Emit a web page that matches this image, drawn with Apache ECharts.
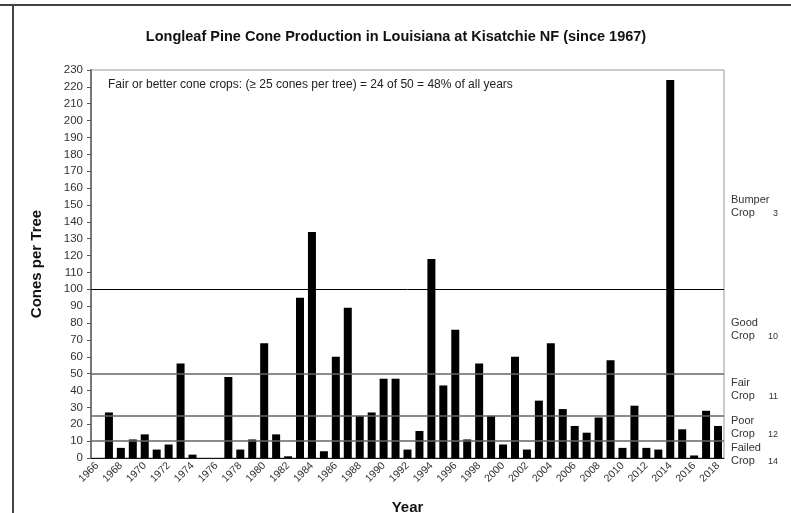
<!DOCTYPE html>
<html>
<head>
<meta charset="utf-8">
<script src="https://cdn.jsdelivr.net/npm/echarts@6/dist/echarts.min.js"></script>
<style>
  html, body { margin: 0; padding: 0; background: #fff; }
  #chart { width: 791px; height: 513px; }
</style>
</head>
<body>
<div id="chart"></div>
<script>
// years on the category axis (1966 has no data)
const years = [];
for (let y = 1966; y <= 2018; y++) years.push(String(y));

// cones per tree, 1966..2018
const cones = [
  null, 27, 6, 11, 14, 5, 8, 56, 2, 0,
  0, 48, 5, 11, 68, 14, 1, 95, 134, 4,
  60, 89, 25, 27, 47, 47, 5, 16, 118, 43,
  76, 11, 56, 25, 8, 60, 5, 34, 68, 29,
  19, 15, 24, 58, 6, 31, 6, 5, 224, 17,
  1.5, 28, 19
];

// crop class thresholds drawn as horizontal lines
const thresholds = [10, 25, 50, 100];

// crop classes on the right side
const cropClasses = ['Bumper', 'Good', 'Fair', 'Poor', 'Failed'];
const cropCounts = [3, 10, 11, 12, 14];
const cropLabelY = [200, 323, 383, 421, 448];

const note = 'Fair or better cone crops: (\u2265 25 cones per tree) = 24 of 50 = 48% of all years';

const font = '"Liberation Sans", Arial, sans-serif';
const chart = echarts.init(document.getElementById('chart'));

const graphics = [
  // outer frame
  { type: 'line', shape: { x1: 0, y1: 5, x2: 791, y2: 5 }, style: { stroke: '#444', lineWidth: 2 } },
  { type: 'line', shape: { x1: 13, y1: 5, x2: 13, y2: 513 }, style: { stroke: '#444', lineWidth: 2 } },
  {
    type: 'text', left: 108, top: 79,
    style: { text: note, font: '12px ' + font, fill: '#222' }
  }
];
cropClasses.forEach((name, i) => {
  graphics.push({
    type: 'text', left: 731, top: cropLabelY[i] - 7,
    style: { text: name + '\nCrop', font: '11px ' + font, fill: '#333', lineHeight: 13.5 }
  });
  graphics.push({
    type: 'text', right: 13, top: cropLabelY[i] + 9,
    style: { text: String(cropCounts[i]), font: '9px ' + font, fill: '#333' }
  });
});

const option = {
  animation: false,
  title: {
    text: 'Longleaf Pine Cone Production in Louisiana at Kisatchie NF (since 1967)',
    left: 391, top: 24, textAlign: 'center',
    textStyle: { fontFamily: font, fontSize: 14.5, fontWeight: 'bold', color: '#111' }
  },
  grid: {
    left: 91, right: 67, top: 70, bottom: 55,
    outerBoundsMode: 'none',
    show: true, borderColor: '#999', borderWidth: 1
  },
  xAxis: {
    type: 'category',
    data: years,
    name: 'Year',
    nameLocation: 'middle',
    nameGap: 42,
    nameTextStyle: { fontFamily: font, fontSize: 15, fontWeight: 'bold', color: '#111' },
    axisLine: { lineStyle: { color: '#111', width: 1 } },
    axisTick: { interval: 0, length: 4, lineStyle: { color: '#333' } },
    axisLabel: {
      interval: 1, rotate: 45, fontFamily: font, fontSize: 10.5, color: '#333', margin: 6
    }
  },
  yAxis: {
    type: 'value',
    min: 0, max: 230, interval: 10,
    name: 'Cones per Tree',
    nameLocation: 'middle',
    nameGap: 47,
    nameTextStyle: { fontFamily: font, fontSize: 15, fontWeight: 'bold', color: '#111' },
    axisLine: { show: true, lineStyle: { color: '#777', width: 2 } },
    axisTick: { show: true, length: 4, lineStyle: { color: '#555' } },
    axisLabel: { fontFamily: font, fontSize: 11.5, color: '#333', margin: 8 },
    splitLine: { show: false }
  },
  graphic: graphics,
  series: [{
    type: 'bar',
    data: cones,
    barWidth: 8,
    clip: false,
    itemStyle: { color: '#000' },
    markLine: {
      silent: true,
      symbol: 'none',
      label: { show: false },
      data: thresholds.map(v => ({
        yAxis: v,
        lineStyle: { type: 'solid', color: v === 100 ? '#000' : '#666', width: v === 100 ? 1 : 1.5 }
      }))
    }
  }]
};
chart.setOption(option);
</script>
</body>
</html>
